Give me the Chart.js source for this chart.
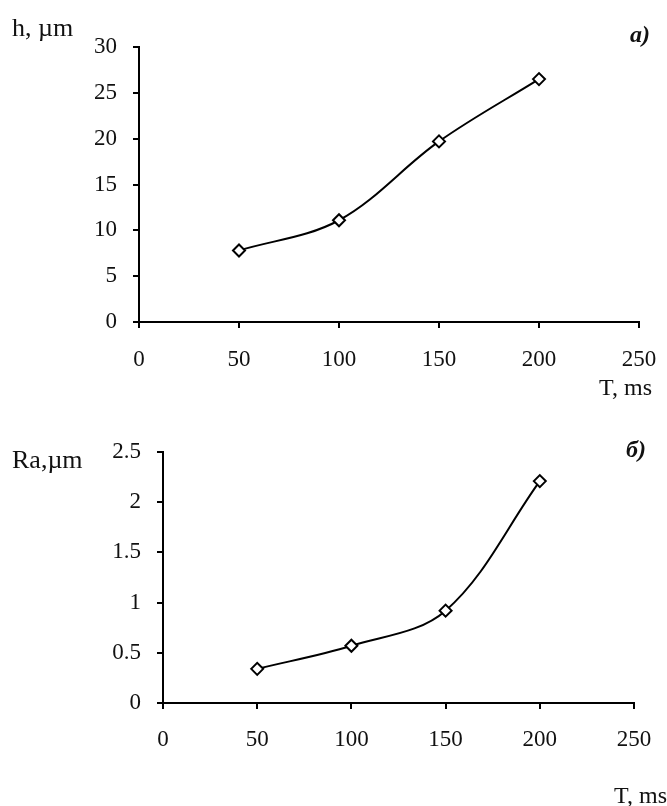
<!DOCTYPE html>
<html>
<head>
<meta charset="utf-8">
<script src="https://cdn.jsdelivr.net/npm/chart.js@4.4.1/dist/chart.umd.min.js"></script>
<style>
  html, body { margin: 0; padding: 0; background: #fff; }
  #wrap { position: relative; width: 667px; height: 806px; }
  canvas { position: absolute; left: 0; }
</style>
</head>
<body>
<div id="wrap">
  <canvas id="chart-h" width="667" height="400" style="top:0"></canvas>
  <canvas id="chart-ra" width="667" height="406" style="top:400px"></canvas>
</div>
<script>
// pulse duration, ms
const timeMs = [50, 100, 150, 200];
// layer depth h, µm (chart a)
const depthH = [7.8, 11.1, 19.7, 26.5];
// roughness Ra, µm (chart б)
const roughnessRa = [0.34, 0.57, 0.92, 2.21];

const xRange = [0, 250];
const xStep = 50;
const hRange = [0, 30];
const hStep = 5;
const raRange = [0, 2.5];
const raStep = 0.5;

const serif = "'Liberation Serif', 'DejaVu Serif', serif";

// draws the free-standing labels (axis names and panel letter)
const labelsPlugin = {
  id: "freeLabels",
  afterDraw(chart, args, opts) {
    const ctx = chart.ctx;
    ctx.save();
    ctx.fillStyle = "#111";
    ctx.textBaseline = "alphabetic";
    for (const item of opts.items || []) {
      ctx.font = item.font;
      ctx.textAlign = item.align || "left";
      ctx.fillText(item.text, item.x, item.y);
    }
    ctx.restore();
  }
};

function toPoints(xs, ys) {
  return xs.map((x, i) => ({ x: x, y: ys[i] }));
}

function makeChart(canvasId, values, yRange, yStep, box, labels) {
  return new Chart(document.getElementById(canvasId), {
    type: "line",
    data: {
      datasets: [{
        data: toPoints(timeMs, values),
        borderColor: "#000",
        borderWidth: 2,
        tension: 0.35,
        pointStyle: "rectRot",
        pointRadius: 6,
        pointBorderWidth: 2,
        pointBorderColor: "#000",
        pointBackgroundColor: "#fff",
        clip: false
      }]
    },
    options: {
      responsive: false,
      animation: false,
      events: [],
      layout: {
        padding: { left: 0, top: box.top, right: box.right, bottom: box.bottom }
      },
      plugins: {
        legend: { display: false },
        tooltip: { enabled: false },
        freeLabels: { items: labels }
      },
      scales: {
        x: {
          type: "linear",
          min: xRange[0],
          max: xRange[1],
          afterFit(scale) {
            scale.height = 50;
            // keep the plot box where the layout padding puts it
            scale.paddingLeft = 0;
            scale.paddingRight = 0;
          },
          border: { display: true, color: "#000", width: 2 },
          grid: { drawOnChartArea: false, drawTicks: true, tickLength: 6, color: "#000", lineWidth: 2 },
          ticks: {
            stepSize: xStep,
            padding: box.xPad,
            color: "#111",
            maxRotation: 0,
            font: { family: serif, size: 23 },
            callback: v => String(v)
          }
        },
        y: {
          min: yRange[0],
          max: yRange[1],
          afterFit(scale) {
            scale.width = box.left;
            scale.paddingTop = 0;
            scale.paddingBottom = 0;
          },
          border: { display: true, color: "#000", width: 2 },
          grid: { drawOnChartArea: false, drawTicks: true, tickLength: 6, color: "#000", lineWidth: 2 },
          ticks: {
            stepSize: yStep,
            padding: 16,
            color: "#111",
            font: { family: serif, size: 23 },
            callback: v => String(Number(v.toFixed(2)))
          }
        }
      }
    },
    plugins: [labelsPlugin]
  });
}

makeChart("chart-h", depthH, hRange, hStep,
  { left: 139, top: 47, right: 28, bottom: 28, xPad: 18 },
  [
    { text: "h, µm", x: 12, y: 36, font: "26px " + serif },
    { text: "a)", x: 650, y: 42, align: "right", font: "italic bold 24px " + serif },
    { text: "T, ms", x: 652, y: 395, align: "right", font: "24px " + serif }
  ]);

makeChart("chart-ra", roughnessRa, raRange, raStep,
  { left: 163, top: 52, right: 33, bottom: 53, xPad: 17 },
  [
    { text: "Ra,µm", x: 12, y: 68, font: "26px " + serif },
    { text: "б)", x: 646, y: 57, align: "right", font: "italic bold 24px " + serif },
    { text: "T, ms", x: 667, y: 403, align: "right", font: "24px " + serif }
  ]);
</script>
</body>
</html>
